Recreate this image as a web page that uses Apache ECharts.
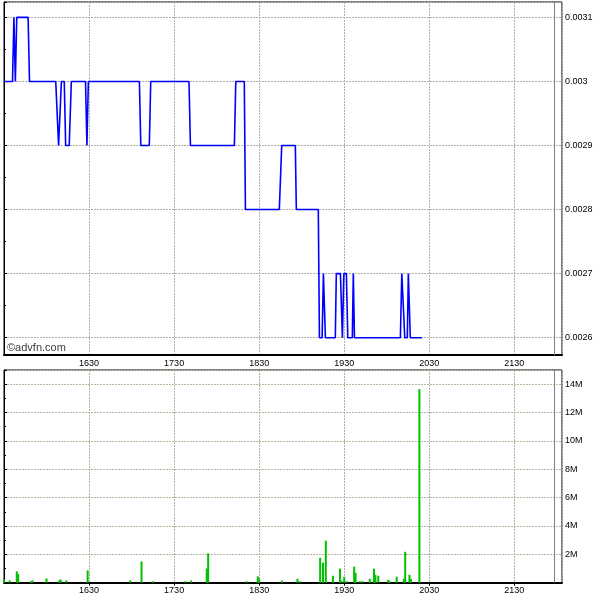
<!DOCTYPE html>
<html><head><meta charset="utf-8">
<script src="https://cdn.jsdelivr.net/npm/echarts@6/dist/echarts.min.js"></script>
<style>html,body{margin:0;padding:0;background:#fff}#c{width:600px;height:600px}</style>
</head><body><div id="c"></div>
<script>
// minutes after 15:30
const priceTimes = [0,6,7,8,9,17,18,36.5,38.5,40.5,42.5,43.5,46,47.5,57.5,58.5,59.5,95.5,96.5,102.5,103.5,130.5,131.5,162.5,163.5,169.5,170.3,194.2,195.9,205.5,206.2,221.7,222.5,224.4,225.3,226.7,233.7,234.4,237.3,238.7,239.7,241.5,242.5,245.7,246.4,247.2,279.6,280.6,282,282.7,284.5,285.2,286.6,294.7];
const priceValues = [0.003,0.003,0.0031,0.003,0.0031,0.0031,0.003,0.003,0.0029,0.003,0.003,0.0029,0.0029,0.003,0.003,0.0029,0.003,0.003,0.0029,0.0029,0.003,0.003,0.0029,0.0029,0.003,0.003,0.0028,0.0028,0.0029,0.0029,0.0028,0.0028,0.0026,0.0026,0.0027,0.0026,0.0026,0.0027,0.0027,0.0026,0.0027,0.0027,0.0026,0.0026,0.0027,0.0026,0.0026,0.0027,0.0027,0.0026,0.0026,0.0027,0.0026,0.0026];
const volTimes = [0,4,9,10,19,20,30,39,40,44,59,89,97,105,128,132,143,144,171,179,180,196,207,209,223,225,227,232,237,238,240,242,247,248,251,253,258,261,262,264,271,272,277,282,283,286,287,293];
const volValues = [0.23,0.16,0.8,0.61,0.1,0.16,0.3,0.16,0.23,0.16,0.87,0.16,1.5,0.1,0.1,0.16,1.0,2.07,0.1,0.45,0.28,0.15,0.28,0.1,1.76,1.41,2.96,0.49,0.99,0.14,0.42,0.1,1.13,0.7,0.1,0.1,0.28,0.99,0.56,0.49,0.21,0.1,0.42,0.28,2.18,0.56,0.28,13.65].map(v=>v*1e6);
const maxPriceLine = 0.0031;
const closeMinute = 388.2;

const priceData = priceTimes.map((t,i)=>[t, priceValues[i]]);
const volData = volTimes.map((t,i)=>[t, volValues[i]]);

function timeLabel(m){
  const tot = 930 + Math.round(m);
  const h = Math.floor(tot/60), mm = tot%60;
  return '' + h + (mm<10?'0':'') + mm;
}
const font = {fontFamily:'Liberation Sans, Arial, sans-serif', fontSize:9, color:'#000'};
const gridLine = {show:true, lineStyle:{color:'#b0b0a8', type:[2,1], width:1}};

const chart = echarts.init(document.getElementById('c'), null, {renderer:'canvas'});
chart.setOption({
  animation:false,
  backgroundColor:'#fff',
  grid:[
    {left:4, top:2, right:38, height:353, show:true, borderColor:'#000', borderWidth:1, backgroundColor:'#fff'},
    {left:4, top:370, right:38, height:212.7, show:true, borderColor:'#000', borderWidth:1, backgroundColor:'#fff'}
  ],
  xAxis:[
    {type:'value', gridIndex:0, min:0, max:393.6, interval:60,
     axisLine:{show:true, onZero:false, lineStyle:{color:'#000', width:2}},
     axisTick:{show:false},
     axisLabel:Object.assign({margin:4, showMinLabel:false, showMaxLabel:false, formatter:v=>timeLabel(v)}, font),
     splitLine:gridLine},
    {type:'value', gridIndex:1, min:0, max:393.6, interval:60,
     axisLine:{show:true, onZero:false, lineStyle:{color:'#000', width:2}},
     axisTick:{show:true, length:3, lineStyle:{color:'#000'}},
     axisLabel:Object.assign({margin:3, showMinLabel:false, showMaxLabel:false, formatter:v=>timeLabel(v)}, font),
     splitLine:gridLine}
  ],
  yAxis:[
    {type:'value', gridIndex:0, position:'right', min:0.002573, max:0.003124, splitNumber:5,
     axisLine:{show:true, lineStyle:{color:'#000'}},
     axisTick:{show:true, length:3, lineStyle:{color:'#000'}},
     minorTick:{show:true, splitNumber:2, length:2, lineStyle:{color:'#000'}},
     axisLabel:Object.assign({margin:3, showMinLabel:false, showMaxLabel:false, formatter:v=>String(parseFloat(v.toFixed(5)))}, font),
     splitLine:gridLine},
    {type:'value', gridIndex:1, position:'right', min:0, max:15e6, interval:2e6,
     axisLine:{show:true, lineStyle:{color:'#000'}},
     axisTick:{show:true, length:3, lineStyle:{color:'#000'}},
     minorTick:{show:true, splitNumber:2, length:2, lineStyle:{color:'#000'}},
     axisLabel:Object.assign({margin:3, showMinLabel:false, showMaxLabel:false, formatter:v=>v===0?'':(v/1e6)+'M'}, font),
     splitLine:{show:true, lineStyle:{color:'#b8b8a0', type:[2,1], width:1}}}
  ],
  graphic:[
    {type:'text', left:7, top:342, style:{text:'©advfn.com', fill:'#404040', font:'11px "Liberation Sans", Arial, sans-serif'}}
  ],
  series:[
    {type:'line', xAxisIndex:0, yAxisIndex:0, data:priceData, symbol:'none',
     lineStyle:{color:'#0000ff', width:1.6}, z:5,
     markLine:{silent:true, symbol:'none', label:{show:false},
       data:[
         {yAxis:maxPriceLine, lineStyle:{color:'#ff0000', type:'solid', width:1}},
         {xAxis:closeMinute, lineStyle:{color:'#808080', type:'solid', width:1}}
       ]}},
    {type:'bar', xAxisIndex:1, yAxisIndex:1, data:volData, barWidth:2,
     itemStyle:{color:'#00c000'},
     markLine:{silent:true, symbol:'none', label:{show:false},
       data:[{xAxis:closeMinute, lineStyle:{color:'#808080', type:'solid', width:1}}]}}
  ]
});
</script></body></html>
